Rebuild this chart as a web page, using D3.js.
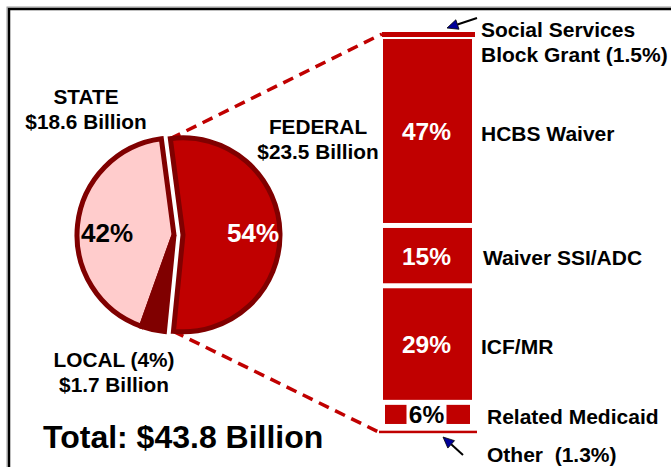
<!DOCTYPE html>
<html>
<head>
<meta charset="utf-8">
<script src="https://d3js.org/d3.v7.min.js"></script>
<style>
  body { margin: 0; background: #fff; }
  text { font-family: "Liberation Sans", Arial, sans-serif; font-weight: bold; }
</style>
</head>
<body>
<svg id="chart"></svg>
<script>
// funding sources (pie)
const sourceNames = ["FEDERAL", "LOCAL", "STATE"]
const sourceBillions = [23.5, 1.7, 18.6]
const sourceLabels = [["FEDERAL", "$23.5 Billion"], ["LOCAL (4%)", "$1.7 Billion"], ["STATE", "$18.6 Billion"]]
const totalLabel = "Total: $43.8 Billion"

// federal breakdown (stacked bar)
const fedCats = ["Social Services Block Grant", "HCBS Waiver", "Waiver SSI/ADC", "ICF/MR", "Related Medicaid", "Other"]
const fedPct = [1.5, 47, 15, 29, 6, 1.3]
const fedLabels = [["Social Services", "Block Grant (1.5%)"], ["HCBS Waiver"], ["Waiver SSI/ADC"], ["ICF/MR"], ["Related Medicaid"], ["Other  (1.3%)"]]

const W = 671, H = 467
const svg = d3.select("#chart").attr("width", W).attr("height", H)

const red = "#c00000", dark = "#800000", pink = "#ffcccc"
const pieColor = d3.scaleOrdinal().domain(sourceNames).range([red, dark, pink])

// frame
svg.append("rect").attr("x", 7).attr("y", 7).attr("width", 720).attr("height", 520)
    .attr("fill", "none").attr("stroke", "#999").attr("stroke-width", 1)
svg.append("rect").attr("x", 9).attr("y", 9).attr("width", 720).attr("height", 520)
    .attr("fill", "none").attr("stroke", "#000").attr("stroke-width", 2.5)

// stacked bar scales
const y = d3.scaleLinear().domain([0, 100]).range([32, 434])
const x = d3.scaleBand().domain(["fed"]).range([383, 472])
let cum = 0
const segs = fedPct.map((v, i) => {
    let s = {cat: fedCats[i], v: v, i: i, y0: y(cum), y1: y(cum + v)}
    cum += v
    return s
})
const last = segs.length - 1

// pie geometry
const cx = 174, cy = 235, R = 97, explode = 9
const a0 = -7.5 * Math.PI / 180
const pie = d3.pie().sort(null).value(d => d).startAngle(a0).endAngle(a0 + 2 * Math.PI)
const arcs = pie(sourceBillions)
const arc = d3.arc().innerRadius(0).outerRadius(R)
const fed = arcs[0]
const fedMid = (fed.startAngle + fed.endAngle) / 2
const fdx = explode * Math.sin(fedMid), fdy = -explode * Math.cos(fedMid)
const corner = a => [cx + fdx + R * Math.sin(a), cy + fdy - R * Math.cos(a)]

// dashed connectors
const c1 = corner(fed.startAngle), c2 = corner(fed.endAngle)
svg.append("line")
    .attr("x1", c1[0]).attr("y1", c1[1])
    .attr("x2", x("fed") - 1).attr("y2", segs[0].y0 + 2)
    .attr("stroke", red).attr("stroke-width", 3.5).attr("stroke-dasharray", "11,7")
svg.append("line")
    .attr("x1", c2[0]).attr("y1", c2[1])
    .attr("x2", x("fed") - 4).attr("y2", segs[last].y1 - 1)
    .attr("stroke", red).attr("stroke-width", 3.5).attr("stroke-dasharray", "11,7")

// pie slices: state, local, then exploded federal
const order = [2, 1, 0]
svg.selectAll("path.slice")
    .data(order.map(i => arcs[i]))
    .enter()
    .append("path")
    .attr("class", "slice")
    .attr("d", arc)
    .attr("transform", d => d.index === 0 ? `translate(${cx + fdx},${cy + fdy})` : `translate(${cx},${cy})`)
    .attr("fill", d => pieColor(sourceNames[d.index]))
    .attr("stroke", dark)
    .attr("stroke-width", 5)
    .attr("stroke-linejoin", "miter")

// pie percentages
const pct = d3.format(".0%")
const total = d3.sum(sourceBillions)
svg.append("text")
    .attr("x", 253).attr("y", 242)
    .attr("text-anchor", "middle").attr("font-size", 26).attr("fill", "#fff")
    .text(pct(sourceBillions[0] / total))
svg.append("text")
    .attr("x", 107).attr("y", 242)
    .attr("text-anchor", "middle").attr("font-size", 26).attr("fill", "#000")
    .text(pct(sourceBillions[2] / total))

// pie source labels
const srcPos = [[318, 134], [114, 367], [86, 104]]
sourceLabels.forEach((lines, i) => {
    let t = svg.append("text")
        .attr("text-anchor", "middle").attr("font-size", 20.8).attr("fill", "#000")
    lines.forEach((l, j) => {
        t.append("tspan").attr("x", srcPos[i][0]).attr("y", srcPos[i][1] + j * 24.5).text(l)
    })
})

svg.append("text")
    .attr("x", 43).attr("y", 448)
    .attr("font-size", 32).attr("fill", "#000")
    .text(totalLabel)

// stacked bar segments
const bw = x.bandwidth()
segs.forEach(s => {
    if (s.v < 2) {
        // thin slivers at top and bottom
        let top = s.i === 0
        svg.append("rect")
            .attr("x", x("fed") - (top ? 1 : 4))
            .attr("y", top ? s.y0 : s.y1 - 2.5)
            .attr("width", bw + (top ? 4 : 9))
            .attr("height", top ? 5 : 2.5)
            .attr("fill", red)
    } else {
        let inset = s.v < 10 ? 2 : 0
        svg.append("rect")
            .attr("x", x("fed") + inset).attr("y", s.y0 + 1)
            .attr("width", bw - 2 * inset).attr("height", s.y1 - s.y0 - 5)
            .attr("fill", red)
    }
})

// bar percentages
segs.filter(s => s.v >= 2).forEach(s => {
    let mid = (s.y0 + 1 + s.y1 - 4) / 2
    let small = s.v < 10
    if (small) {
        svg.append("rect")
            .attr("x", x("fed") + bw / 2 - 21).attr("y", s.y0)
            .attr("width", 40).attr("height", s.y1 - s.y0 - 3)
            .attr("fill", "#fff")
    }
    svg.append("text")
        .attr("x", x("fed") + bw / 2 - 1).attr("y", mid + 9)
        .attr("text-anchor", "middle").attr("font-size", 24.5)
        .attr("fill", small ? "#000" : "#fff")
        .text(s.v + "%")
})

// right-hand labels
segs.forEach(s => {
    let lines = fedLabels[s.i]
    let lx = 481, ly
    if (s.i === 0) ly = s.y0 + 5
    else if (s.i === last) { lx = 487; ly = s.y1 + 29 }
    else if (s.i === last - 1) { lx = 487; ly = (s.y0 + s.y1) / 2 + 8 }
    else ly = (s.y0 + s.y1) / 2 + 8
    if (s.i === 2) lx = 483
    let t = svg.append("text").attr("font-size", 21).attr("fill", "#000")
    lines.forEach((l, j) => {
        t.append("tspan").attr("x", lx).attr("y", ly + j * 25).text(l)
    })
})
svg.selectAll("tspan").style("white-space", "pre")

// pointer arrows
const arrows = [
    [[477, 18], [447, 28]],
    [[463, 455], [443, 437]]
]
arrows.forEach(([from, to]) => {
    let ang = Math.atan2(to[1] - from[1], to[0] - from[0])
    let len = 11, wid = 5
    let bx = to[0] - len * Math.cos(ang), by = to[1] - len * Math.sin(ang)
    svg.append("line")
        .attr("x1", from[0]).attr("y1", from[1]).attr("x2", bx).attr("y2", by)
        .attr("stroke", "#000").attr("stroke-width", 2)
    let pts = [
        to,
        [bx + wid * Math.sin(ang), by - wid * Math.cos(ang)],
        [bx - wid * Math.sin(ang), by + wid * Math.cos(ang)]
    ]
    svg.append("polygon")
        .attr("points", pts.map(p => p.join(",")).join(" "))
        .attr("fill", "#000099").attr("stroke", "#000").attr("stroke-width", 0.8)
})
</script>
</body>
</html>
